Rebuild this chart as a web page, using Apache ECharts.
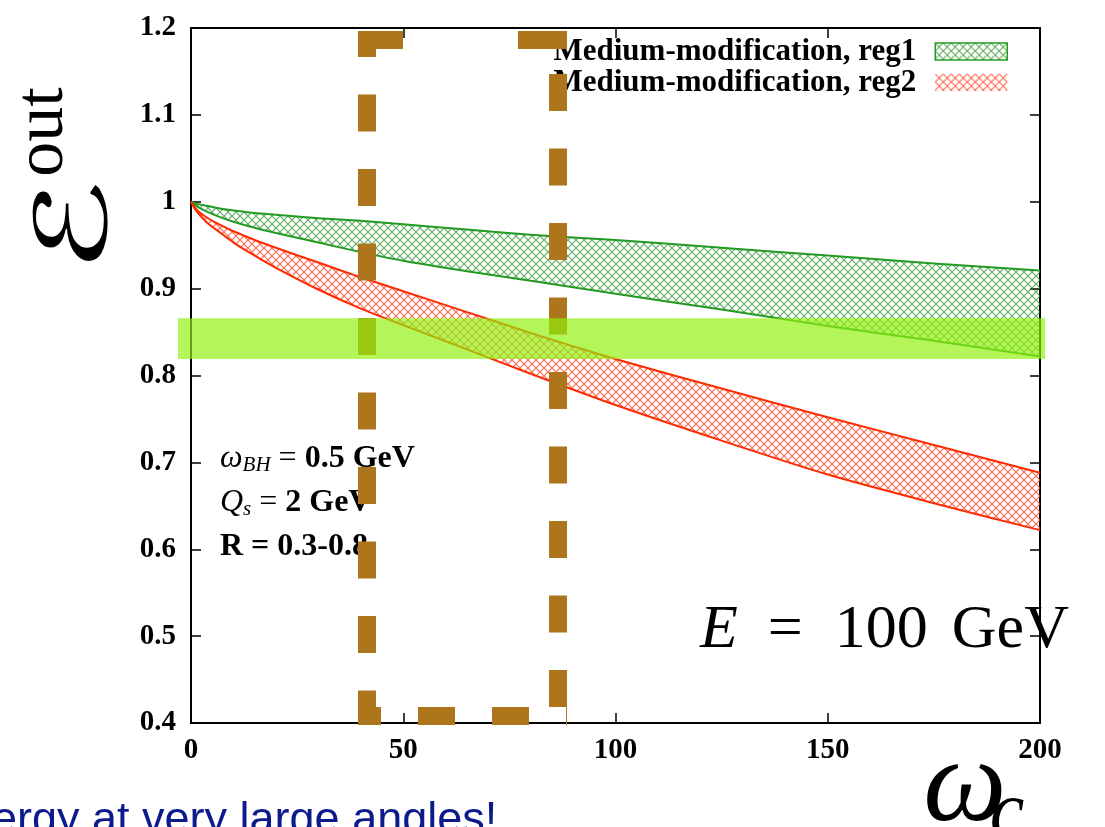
<!DOCTYPE html>
<html><head><meta charset="utf-8">
<script src="https://cdn.jsdelivr.net/npm/echarts@6/dist/echarts.min.js"></script>
<style>html,body{margin:0;padding:0;background:#fff;overflow:hidden}#c{width:1105px;height:827px}</style>
</head><body><div id="c"></div>
<script>
// ---- data ----
const omegaC    = [0, 1, 2, 4, 7, 10, 15, 20, 30, 40, 50, 65, 80, 100, 125, 150, 175, 200];
const reg1Upper = [1.0, 0.998, 0.997, 0.995, 0.992, 0.990, 0.987, 0.985, 0.981, 0.978, 0.974, 0.968, 0.962, 0.956, 0.947, 0.938, 0.929, 0.921];
const reg1Lower = [1.0, 0.996, 0.993, 0.988, 0.982, 0.977, 0.970, 0.964, 0.953, 0.942, 0.932, 0.920, 0.909, 0.894, 0.876, 0.857, 0.840, 0.822];
const reg2Upper = [1.0, 0.993, 0.988, 0.981, 0.973, 0.966, 0.956, 0.947, 0.930, 0.913, 0.897, 0.873, 0.849, 0.819, 0.785, 0.752, 0.720, 0.688];
const reg2Lower = [1.0, 0.991, 0.985, 0.975, 0.964, 0.953, 0.938, 0.924, 0.899, 0.877, 0.858, 0.830, 0.802, 0.766, 0.725, 0.686, 0.653, 0.622];
const seriesNames = ['Medium-modification, reg1', 'Medium-modification, reg2'];
const xTickLabels = ['0', '50', '100', '150', '200'];
const yTickLabels = ['0.4', '0.5', '0.6', '0.7', '0.8', '0.9', '1', '1.1', '1.2'];
// annotation shapes (data coordinates)
const highlightBand = [[-3.06, 0.819, 201.2, 0.866]];
const boxLeftX = 41.46, boxRightX = 86.46, boxTopY = 1.1862, boxBottomY = 0.4081;
const boxOuterLeft = 39.34, boxOuterRight = 88.57, boxOuterTop = 1.1954, boxOuterBottom = 0.4;

function hatch(color) {
  const c = document.createElement('canvas');
  c.width = 8; c.height = 8;
  const g = c.getContext('2d');
  g.strokeStyle = color; g.lineWidth = 1.2;
  g.beginPath();
  g.moveTo(-1, -1); g.lineTo(9, 9);
  g.moveTo(9, -1); g.lineTo(-1, 9);
  g.stroke();
  return c;
}
const greenHatch = hatch('rgba(34,140,34,0.7)');
const redHatch = hatch('rgba(255,60,30,0.75)');
const GREEN = '#239b23', RED = '#ff2a00', BROWN = '#ad761c';

const serifBold = {fontFamily: 'Liberation Serif', fontWeight: 'bold', color: '#000'};
const axisCommon = {
  axisLine: {show: true, onZero: false, lineStyle: {color: '#000', width: 2}},
  axisTick: {show: true, inside: true, length: 10, lineStyle: {color: '#000', width: 1.5}},
  splitLine: {show: false}
};

// band series: polygon between lower and upper curves, drawn through the axes
function bandSeries(name, lower, upper, edgeColor, pattern) {
  return {
    name: name, type: 'custom', z: 2, clip: false,
    data: omegaC.map((x, i) => [x, lower[i], upper[i]]),
    encode: {x: 0, y: [1, 2]},
    itemStyle: {color: edgeColor},
    renderItem: (params, api) => {
      if (params.dataIndex !== 0) return null;
      const n = omegaC.length;
      const lo = [], up = [];
      for (let i = 0; i < n; i++) {
        const x = api.value(0, i);
        lo.push(api.coord([x, api.value(1, i)]));
        up.push(api.coord([x, api.value(2, i)]));
      }
      const poly = up.concat(lo.slice().reverse());
      return {type: 'group', children: [
        {type: 'polygon', shape: {points: poly}, style: {fill: {image: pattern, repeat: 'repeat'}, stroke: null}},
        {type: 'polyline', shape: {points: up, smooth: 0.25}, style: {stroke: edgeColor, lineWidth: 2, fill: null}},
        {type: 'polyline', shape: {points: lo, smooth: 0.25}, style: {stroke: edgeColor, lineWidth: 2, fill: null}}
      ]};
    }
  };
}

const brownSide = (data, dash, offset) => ({
  type: 'line', data: data, symbol: 'none', silent: true, clip: false, z: 5,
  lineStyle: {color: BROWN, width: 18, type: dash, dashOffset: offset, cap: 'butt'},
  animation: false
});

const chart = echarts.init(document.getElementById('c'));
chart.setOption({
  animation: false,
  backgroundColor: '#fff',
  grid: {left: 191, right: 65, top: 28, bottom: 104},
  xAxis: [
    Object.assign({type: 'value', min: 0, max: 200, interval: 50, position: 'bottom',
      axisLabel: Object.assign({margin: 13, fontSize: 29,
        formatter: v => xTickLabels[Math.round(v / 50)]}, serifBold)}, axisCommon),
    Object.assign({type: 'value', min: 0, max: 200, interval: 50, position: 'top',
      axisLabel: {show: false}}, axisCommon)
  ],
  yAxis: [
    Object.assign({type: 'value', min: 0.4, max: 1.2, interval: 0.1, position: 'left',
      axisLabel: Object.assign({margin: 15, fontSize: 29,
        formatter: v => yTickLabels[Math.round((v - 0.4) / 0.1)]}, serifBold)}, axisCommon),
    Object.assign({type: 'value', min: 0.4, max: 1.2, interval: 0.1, position: 'right',
      axisLabel: {show: false}}, axisCommon)
  ],
  legend: {
    data: [
      {name: seriesNames[0], icon: 'rect', itemStyle: {color: {image: greenHatch, repeat: 'repeat'}, borderColor: GREEN, borderWidth: 1.5}},
      {name: seriesNames[1], icon: 'rect', itemStyle: {color: {image: redHatch, repeat: 'repeat'}, borderWidth: 0}}
    ],
    orient: 'vertical', right: 97, top: 36, padding: 0, align: 'right',
    itemWidth: 72, itemHeight: 17, itemGap: 0, selectedMode: false, z: 4,
    textStyle: {fontFamily: 'Liberation Serif', fontWeight: 'bold', fontSize: 31, lineHeight: 31, color: '#000', padding: [0, 14, 0, 0]}
  },
  series: [
    bandSeries(seriesNames[0], reg1Lower, reg1Upper, GREEN, greenHatch),
    bandSeries(seriesNames[1], reg2Lower, reg2Upper, RED, redHatch),
    // brown dashed rectangle (overlay)
    brownSide([[boxLeftX, boxOuterTop], [boxLeftX, boxOuterBottom]], [37, 37.5], 12),
    brownSide([[boxRightX, boxOuterTop], [boxRightX, boxOuterBottom]], [37, 37.5], 32.5),
    brownSide([[boxOuterLeft, boxTopY], [boxOuterRight, boxTopY]], [45, 115, 60, 10], 0),
    brownSide([[boxOuterLeft, boxBottomY], [boxOuterRight, boxBottomY]], [37, 37], 14),
    // translucent green highlight band
    {type: 'custom', data: highlightBand, clip: false, silent: true, z: 6,
      renderItem: (params, api) => {
        const p0 = api.coord([api.value(0), api.value(3)]);
        const p1 = api.coord([api.value(2), api.value(1)]);
        return {type: 'rect', shape: {x: p0[0], y: p0[1], width: p1[0] - p0[0], height: p1[1] - p0[1]},
          style: {fill: 'rgba(145,240,12,0.68)'}};
      }}
  ],
  graphic: [
    // y-axis title  E^out (rotated)
    {type: 'text', x: 80, y: 226, rotation: Math.PI / 2, scaleX: 1.5, scaleY: 0.95, z: 3,
      style: {text: 'ℰ', font: '104px "DejaVu Serif", "DejaVu Sans"', fill: '#000', align: 'center', verticalAlign: 'middle'}},
    {type: 'text', x: 44, y: 132, rotation: Math.PI / 2, z: 3,
      style: {text: 'out', font: '70px "Liberation Serif"', fill: '#000', align: 'center', verticalAlign: 'middle'}},
    // x-axis title omega_c
    {type: 'text', x: 965, y: 789, z: 3,
      style: {text: 'ω', font: 'italic 118px "Liberation Serif"', fill: '#000', align: 'center', verticalAlign: 'middle'}},
    {type: 'text', x: 1007, y: 814, z: 3,
      style: {text: 'c', font: 'italic 78px "Liberation Serif"', fill: '#000', align: 'center', verticalAlign: 'middle'}},
    // E = 100 GeV
    {type: 'text', x: 700, y: 631, z: 3,
      style: {text: '{i|E}{e|=}{n|100}{g|GeV}', align: 'left', verticalAlign: 'middle',
        rich: {
          i: {fontFamily: 'Liberation Serif', fontStyle: 'italic', fontSize: 62, color: '#000', verticalAlign: 'middle'},
          e: {fontFamily: 'Liberation Serif', fontSize: 62, color: '#000', padding: [0, 0, 0, 30], verticalAlign: 'middle'},
          n: {fontFamily: 'Liberation Serif', fontSize: 62, color: '#000', padding: [0, 0, 0, 32], verticalAlign: 'middle'},
          g: {fontFamily: 'Liberation Serif', fontSize: 62, color: '#000', padding: [0, 0, 0, 24], verticalAlign: 'middle'}
        }}},
    // parameter annotations
    {type: 'text', x: 220, y: 459, z: 3,
      style: {text: '{w|ω}{s|BH}{e| = }{b|0.5 GeV}', align: 'left', verticalAlign: 'middle',
        rich: {
          w: {fontFamily: 'Liberation Serif', fontStyle: 'italic', fontSize: 32, lineHeight: 34, color: '#000'},
          s: {fontFamily: 'Liberation Serif', fontStyle: 'italic', fontSize: 21, lineHeight: 16, verticalAlign: 'bottom', color: '#000'},
          e: {fontFamily: 'Liberation Serif', fontSize: 32, lineHeight: 34, color: '#000'},
          b: {fontFamily: 'Liberation Serif', fontWeight: 'bold', fontSize: 32, lineHeight: 34, color: '#000'}
        }}},
    {type: 'text', x: 220, y: 503, z: 3,
      style: {text: '{w|Q}{s|s}{e| = }{b|2 GeV}', align: 'left', verticalAlign: 'middle',
        rich: {
          w: {fontFamily: 'Liberation Serif', fontStyle: 'italic', fontSize: 32, lineHeight: 34, color: '#000'},
          s: {fontFamily: 'Liberation Serif', fontStyle: 'italic', fontSize: 21, lineHeight: 16, verticalAlign: 'bottom', color: '#000'},
          e: {fontFamily: 'Liberation Serif', fontSize: 32, lineHeight: 34, color: '#000'},
          b: {fontFamily: 'Liberation Serif', fontWeight: 'bold', fontSize: 32, lineHeight: 34, color: '#000'}
        }}},
    {type: 'text', x: 220, y: 547, z: 3,
      style: {text: 'R = 0.3-0.8', font: 'bold 32px "Liberation Serif"', fill: '#000', align: 'left', verticalAlign: 'middle'}},
    // slide text cut by the bottom edge
    {type: 'text', x: -8, y: 821, z: 3,
      style: {text: 'ergy at very large angles!', font: '45px "Liberation Sans"', fill: '#0d1a8c', align: 'left', verticalAlign: 'middle'}}
  ]
});
</script>
</body></html>
